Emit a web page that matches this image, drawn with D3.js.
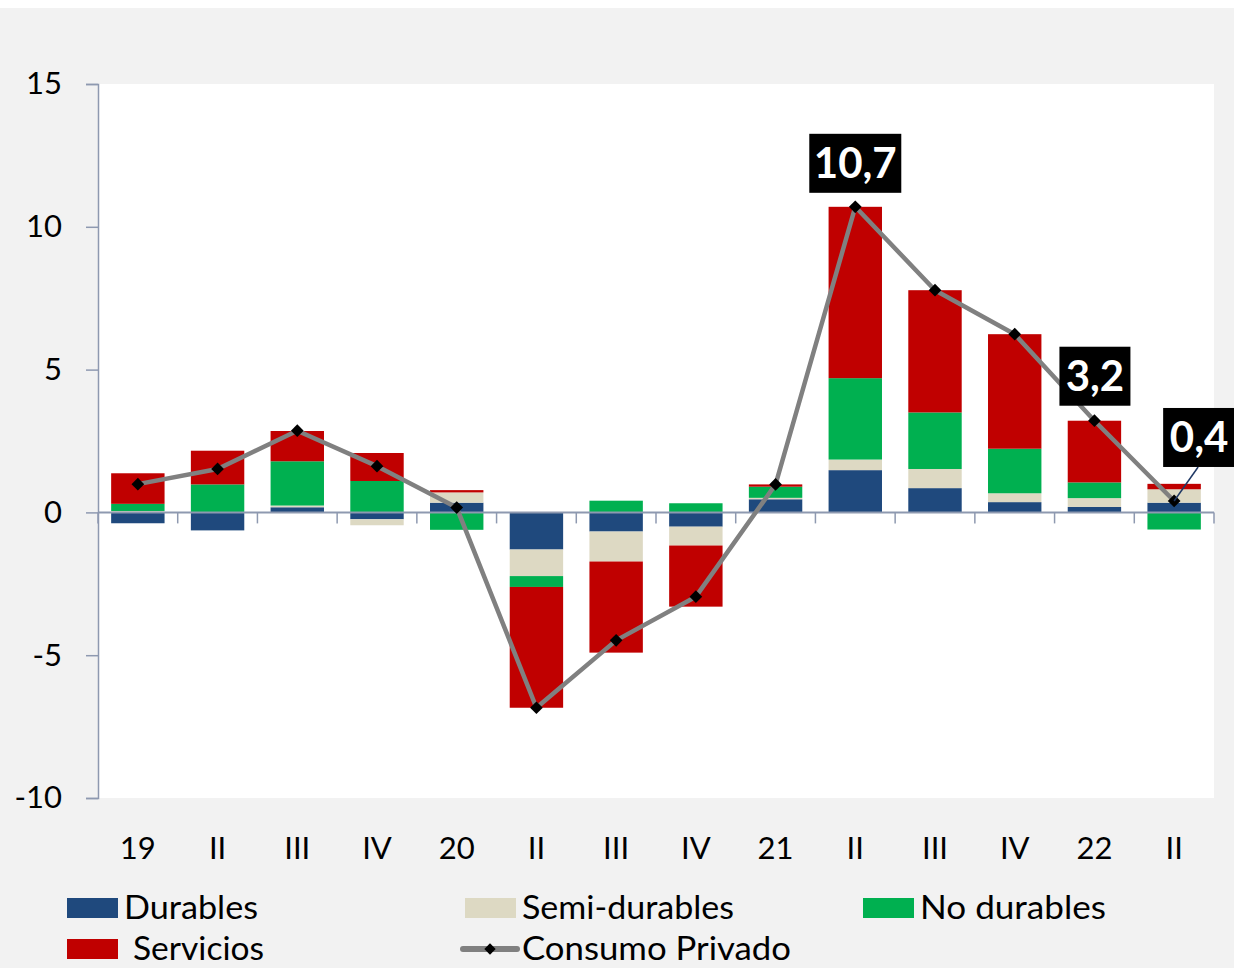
<!DOCTYPE html>
<html><head><meta charset="utf-8">
<script src="https://cdn.jsdelivr.net/npm/d3@7/dist/d3.min.js"></script>
<style>
html,body{margin:0;padding:0;background:#fff;}
svg{display:block;}
text{font-family:Lato,"Open Sans",sans-serif;}
</style></head>
<body>
<svg id="chart" width="1234" height="968"></svg>
<script>
const categories = ["19","II","III","IV","20","II","III","IV","21","II","III","IV","22","II"];
const durables   = [-0.38,-0.63,0.18,-0.24,0.34,-1.30,-0.67,-0.50,0.46,1.48,0.85,0.36,0.19,0.34];
const semi       = [0.05,0.00,0.06,-0.21,0.36,-0.93,-1.05,-0.66,0.05,0.37,0.67,0.31,0.31,0.47];
const noDurables = [0.25,0.98,1.55,1.10,-0.61,-0.38,0.41,0.32,0.39,2.85,1.98,1.56,0.55,-0.60];
const servicios  = [1.07,1.18,1.06,0.98,0.08,-4.23,-3.19,-2.14,0.08,6.00,4.28,4.01,2.16,0.19];
const consumo    = [0.99,1.52,2.86,1.62,0.17,-6.84,-4.48,-2.95,0.98,10.70,7.78,6.24,3.21,0.40];
const yTicks = [-10,-5,0,5,10,15];
const callouts = [{i:9,text:"10,7"},{i:12,text:"3,2"},{i:13,text:"0,4"}];

const seriesNames = ["Durables","Semi-durables","No durables","Servicios"];
const seriesData = [durables, semi, noDurables, servicios];
const colors = ["#1f497d","#ddd9c3","#00b050","#c00000"];

const svg = d3.select("#chart");
svg.append("rect").attr("x",0).attr("y",8).attr("width",1234).attr("height",960).attr("fill","#f2f2f2");

const m = {l:98, r:1214, t:84, b:798};
svg.append("rect").attr("x",m.l).attr("y",m.t).attr("width",m.r-m.l).attr("height",m.b-m.t).attr("fill","#fff");

const x = d3.scaleBand().domain(d3.range(categories.length)).range([m.l,m.r]).paddingInner(0.33).paddingOuter(0.165);
const y = d3.scaleLinear().domain([-10,15]).range([m.b,m.t]);
const axisColor = "#8e99b0";

// stacked bars (positive and negative stacked separately)
categories.forEach((c,i)=>{
  let pos=0, neg=0;
  seriesData.forEach((s,k)=>{
    const v = s[i];
    let y0,y1;
    if(v>=0){y0=pos;y1=pos+v;pos=y1;} else {y0=neg;y1=neg+v;neg=y1;}
    svg.append("rect")
      .attr("x",x(i)).attr("width",x.bandwidth())
      .attr("y",y(Math.max(y0,y1))).attr("height",Math.abs(y(y0)-y(y1)))
      .attr("fill",colors[k]);
  });
});

// y axis
const yAxis = svg.append("g").attr("transform",`translate(${m.l},0)`)
  .call(d3.axisLeft(y).tickValues(yTicks).tickSize(12).tickPadding(24).tickFormat(d=>d<0?"-"+Math.abs(d):d));
yAxis.select(".domain").attr("stroke",axisColor).attr("stroke-width",1.5);
yAxis.selectAll(".tick line").attr("stroke",axisColor).attr("stroke-width",1.5);
yAxis.selectAll(".tick text").attr("font-size",31).attr("fill","#000").attr("font-family","Lato");

// x axis at zero
const step = x.step();
const xAxisG = svg.append("g");
xAxisG.append("line").attr("x1",m.l).attr("x2",m.r).attr("y1",y(0)).attr("y2",y(0)).attr("stroke",axisColor).attr("stroke-width",2);
d3.range(categories.length+1).forEach(i=>{
  const xx = m.l + i*step;
  xAxisG.append("line").attr("x1",xx).attr("x2",xx).attr("y1",y(0)).attr("y2",y(0)+11).attr("stroke",axisColor).attr("stroke-width",1.5);
});
categories.forEach((c,i)=>{
  svg.append("text").attr("x",x(i)+x.bandwidth()/2).attr("y",859).attr("text-anchor","middle")
    .attr("font-size",31).attr("fill","#000").text(c);
});

// line
const lineGen = d3.line().x((d,i)=>x(i)+x.bandwidth()/2).y(d=>y(d));
svg.append("path").datum(consumo).attr("d",lineGen).attr("fill","none").attr("stroke","#808080").attr("stroke-width",4.5).attr("stroke-linejoin","round");
consumo.forEach((v,i)=>{
  svg.append("rect").attr("x",-4.5).attr("y",-4.5).attr("width",9).attr("height",9).attr("fill","#000")
    .attr("transform",`translate(${x(i)+x.bandwidth()/2},${y(v)}) rotate(45)`);
});

// callouts
callouts.forEach(co=>{
  const cx = x(co.i)+x.bandwidth()/2, cy = y(consumo[co.i]);
  let bw = co.text.length>3 ? 92 : 71, bh = 59;
  let bx, by;
  if(co.i===9){ bx = cx-bw/2; by = cy-14-bh; }
  else if(co.i===12){ bx = cx-35; by = cy-15-bh; }
  else { bx = cx-11; by = cy-93; bw = 72;
    svg.append("line").attr("x1",cx).attr("y1",cy).attr("x2",cx+24).attr("y2",by+bh).attr("stroke","#1f3864").attr("stroke-width",1.5);
  }
  svg.append("rect").attr("x",bx).attr("y",by).attr("width",bw).attr("height",bh).attr("fill","#000");
  svg.append("text").attr("x",bx+bw/2).attr("y",by+bh/2+15).attr("text-anchor","middle")
    .attr("font-size",42).attr("font-weight","bold").attr("fill","#fff").text(co.text);
});

// legend
const legend = [
  {name:"Durables", type:"rect", color:colors[0], x:67, y:908, tx:124, w:134},
  {name:"Semi-durables", type:"rect", color:colors[1], x:465, y:908, tx:522, w:212},
  {name:"No durables", type:"rect", color:colors[2], x:863, y:908, tx:920, w:186},
  {name:"Servicios", type:"rect", color:colors[3], x:67, y:949, tx:133, w:131},
  {name:"Consumo Privado", type:"line", color:"#808080", x:463, y:949, tx:522, w:269}
];
legend.forEach(l=>{
  if(l.type==="rect"){
    svg.append("rect").attr("x",l.x).attr("y",l.y-10).attr("width",51).attr("height",20).attr("fill",l.color);
  } else {
    svg.append("line").attr("x1",l.x).attr("x2",l.x+54).attr("y1",l.y).attr("y2",l.y).attr("stroke",l.color).attr("stroke-width",6).attr("stroke-linecap","round");
    svg.append("rect").attr("x",-4).attr("y",-4).attr("width",8).attr("height",8).attr("fill","#000")
      .attr("transform",`translate(${l.x+27},${l.y}) rotate(45)`);
  }
  svg.append("text").attr("x",l.tx).attr("y",l.y+11).attr("font-size",32).attr("fill","#000")
    .attr("textLength",l.w).attr("lengthAdjust","spacingAndGlyphs").text(l.name);
});
</script>
</body></html>
